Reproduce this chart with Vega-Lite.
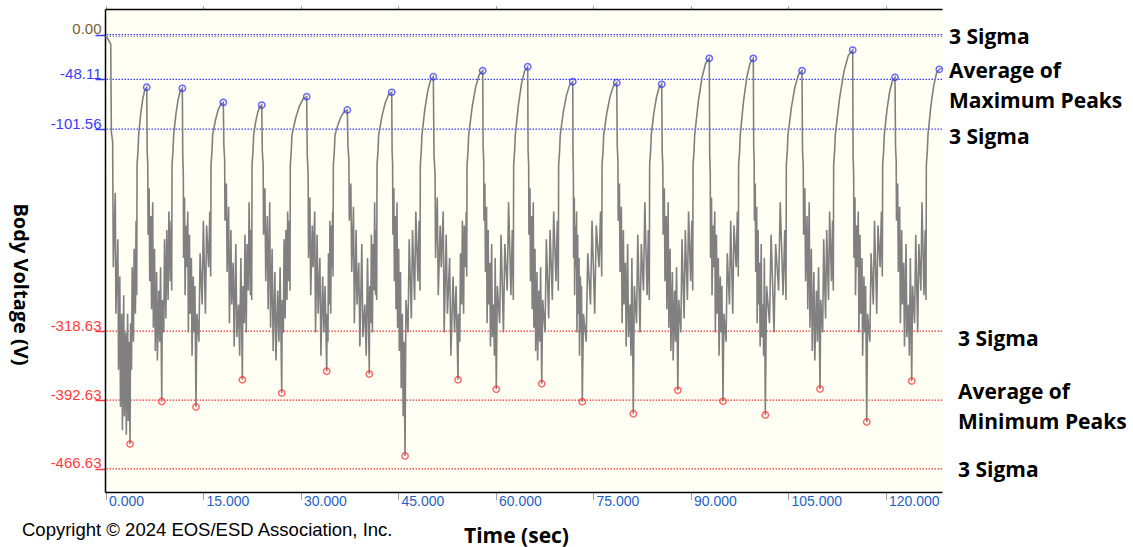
{
  "$schema": "https://vega.github.io/schema/vega-lite/v6.json",
  "width": 837,
  "height": 483,
  "autosize": {"type": "none"},
  "padding": {"left": 105, "top": 9, "right": 191, "bottom": 55},
  "background": "#ffffff",
  "title": {"text": "Copyright © 2024 EOS/ESD Association, Inc.", "orient": "bottom", "anchor": "start", "frame": "group", "dx": -83, "offset": -10.5, "font": "Liberation Sans", "fontSize": 18.5, "fontWeight": "normal", "color": "#000000", "baseline": "alphabetic"},
  "config": {"view": {"fill": "#fffff4", "stroke": null}, "axis": {"grid": false}},
  "resolve": {"axis": {"x": "independent"}},
  "datasets": {
    "levels": [
      {"v": 0, "band": "max", "role": "outer", "label": "3 Sigma"},
      {"v": -48.11, "band": "max", "role": "average", "label": "Average of\nMaximum Peaks"},
      {"v": -101.56, "band": "max", "role": "inner", "label": "3 Sigma"},
      {"v": -2, "band": "ref", "role": "ref", "label": ""},
      {"v": -318.63, "band": "min", "role": "inner", "label": "3 Sigma"},
      {"v": -392.63, "band": "min", "role": "average", "label": "Average of\nMinimum Peaks"},
      {"v": -466.63, "band": "min", "role": "outer", "label": "3 Sigma"}
    ],
    "maxp": [
      {"t": 6.34, "v": -56.6}, {"t": 11.82, "v": -57.7}, {"t": 18.12, "v": -72.8}, {"t": 24.03, "v": -75.7}, {"t": 30.95, "v": -66.7}, {"t": 37.2, "v": -81.0}, {"t": 44.03, "v": -62.0}, {"t": 50.43, "v": -45.3}, {"t": 58.03, "v": -38.8}, {"t": 64.95, "v": -34.5}, {"t": 71.88, "v": -50.6}, {"t": 78.65, "v": -51.7}, {"t": 85.57, "v": -53.4}, {"t": 92.89, "v": -25.5}, {"t": 99.66, "v": -25.5}, {"t": 107.15, "v": -38.8}, {"t": 114.95, "v": -16.6}, {"t": 121.46, "v": -45.9}, {"t": 128.28, "v": -37.3}
    ],
    "minp": [
      {"t": 3.77, "v": -439.9}, {"t": 8.65, "v": -394.2}, {"t": 13.92, "v": -400.1}, {"t": 21.05, "v": -370.9}, {"t": 27.11, "v": -385.1}, {"t": 34.03, "v": -361.7}, {"t": 40.58, "v": -364.7}, {"t": 46.08, "v": -452.7}, {"t": 54.23, "v": -370.8}, {"t": 60.12, "v": -381.1}, {"t": 67.11, "v": -375.1}, {"t": 73.35, "v": -394.4}, {"t": 81.2, "v": -407.3}, {"t": 88.05, "v": -382.2}, {"t": 95.0, "v": -394.0}, {"t": 101.51, "v": -408.7}, {"t": 109.92, "v": -380.8}, {"t": 117.11, "v": -416.2}, {"t": 124.03, "v": -372.2}
    ],
    "wave": [
      {"t":0,"v":-2},{"t":0.3,"v":-4},{"t":0.8,"v":-10},{"t":0.9,"v":-105},{"t":1.1,"v":-115},{"t":1.15,"v":-190},{"t":1.2,"v":-250},{"t":1.5,"v":-170},{"t":1.6,"v":-300},{"t":1.9,"v":-220},{"t":2.0,"v":-360},{"t":2.2,"v":-260},{"t":2.3,"v":-400},{"t":2.5,"v":-300},{"t":2.6,"v":-425},{"t":2.8,"v":-280},{"t":2.9,"v":-410},{"t":3.1,"v":-320},{"t":3.2,"v":-430},{"t":3.4,"v":-300},{"t":3.5,"v":-415},{"t":3.6,"v":-330},{"t":3.77,"v":-439.9},{"t":3.85,"v":-310},{"t":4.0,"v":-360},{"t":4.1,"v":-250},{"t":4.3,"v":-330},{"t":4.4,"v":-230},{"t":4.6,"v":-300},{"t":4.7,"v":-200},{"t":4.8,"v":-280},{"t":4.85,"v":-140},{"t":5.0,"v":-125},{"t":5.1,"v":-108},{"t":5.41,"v":-85.5},{"t":5.72,"v":-69.5},{"t":6.03,"v":-59.8},{"t":6.34,"v":-56.6},
      {"t":6.41,"v":-125},{"t":6.50,"v":-140},{"t":6.55,"v":-215},{"t":6.71,"v":-165},{"t":6.80,"v":-265},{"t":6.99,"v":-195},{"t":7.08,"v":-295},{"t":7.26,"v":-180},{"t":7.36,"v":-315},{"t":7.54,"v":-230},{"t":7.66,"v":-340},{"t":7.86,"v":-255},{"t":7.98,"v":-350},{"t":8.19,"v":-275},{"t":8.33,"v":-330},{"t":8.47,"v":-250},{"t":8.65,"v":-394.2},
      {"t":8.74,"v":-285},{"t":8.96,"v":-320},{"t":9.08,"v":-220},{"t":9.29,"v":-305},{"t":9.42,"v":-210},{"t":9.63,"v":-285},{"t":9.75,"v":-190},{"t":9.97,"v":-265},{"t":10.09,"v":-200},{"t":10.18,"v":-275},
      {"t":10.23,"v":-140},{"t":10.38,"v":-125},{"t":10.48,"v":-108},{"t":10.82,"v":-86.0},{"t":11.15,"v":-70.3},{"t":11.49,"v":-60.8},{"t":11.82,"v":-57.7},
      {"t":11.88,"v":-130},{"t":11.97,"v":-150},{"t":12.01,"v":-240},{"t":12.16,"v":-175},{"t":12.24,"v":-280},{"t":12.41,"v":-205},{"t":12.49,"v":-250},{"t":12.66,"v":-190},{"t":12.74,"v":-320},{"t":12.91,"v":-215},{"t":13.02,"v":-300},{"t":13.21,"v":-240},{"t":13.31,"v":-345},{"t":13.50,"v":-260},{"t":13.63,"v":-320},{"t":13.75,"v":-270},{"t":13.92,"v":-400.1},
      {"t":14.06,"v":-300},{"t":14.37,"v":-330},{"t":14.55,"v":-235},{"t":14.87,"v":-290},{"t":15.05,"v":-200},{"t":15.37,"v":-300},{"t":15.55,"v":-205},{"t":15.86,"v":-250},{"t":16.04,"v":-190},{"t":16.18,"v":-260},
      {"t":16.23,"v":-140},{"t":16.38,"v":-125},{"t":16.48,"v":-108},{"t":16.89,"v":-92.6},{"t":17.30,"v":-81.6},{"t":17.71,"v":-75.0},{"t":18.12,"v":-72.8},
      {"t":18.21,"v":-120},{"t":18.33,"v":-135},{"t":18.38,"v":-200},{"t":18.59,"v":-160},{"t":18.71,"v":-255},{"t":18.94,"v":-185},{"t":19.06,"v":-310},{"t":19.29,"v":-210},{"t":19.41,"v":-290},{"t":19.64,"v":-245},{"t":19.79,"v":-335},{"t":20.05,"v":-225},{"t":20.20,"v":-325},{"t":20.46,"v":-290},{"t":20.64,"v":-345},{"t":20.82,"v":-240},{"t":21.05,"v":-370.9},
      {"t":21.14,"v":-270},{"t":21.34,"v":-310},{"t":21.45,"v":-215},{"t":21.65,"v":-320},{"t":21.77,"v":-225},{"t":21.97,"v":-275},{"t":22.09,"v":-180},{"t":22.29,"v":-280},{"t":22.40,"v":-210},{"t":22.49,"v":-285},
      {"t":22.54,"v":-140},{"t":22.69,"v":-125},{"t":22.79,"v":-108},{"t":23.10,"v":-93.9},{"t":23.41,"v":-83.8},{"t":23.72,"v":-77.7},{"t":24.03,"v":-75.7},
      {"t":24.12,"v":-125},{"t":24.25,"v":-140},{"t":24.31,"v":-215},{"t":24.52,"v":-165},{"t":24.65,"v":-265},{"t":24.89,"v":-195},{"t":25.02,"v":-295},{"t":25.26,"v":-180},{"t":25.39,"v":-315},{"t":25.63,"v":-230},{"t":25.79,"v":-340},{"t":26.06,"v":-255},{"t":26.22,"v":-350},{"t":26.49,"v":-275},{"t":26.68,"v":-330},{"t":26.86,"v":-250},{"t":27.11,"v":-385.1},
      {"t":27.19,"v":-285},{"t":27.36,"v":-320},{"t":27.47,"v":-220},{"t":27.64,"v":-305},{"t":27.75,"v":-210},{"t":27.92,"v":-285},{"t":28.02,"v":-190},{"t":28.20,"v":-265},{"t":28.30,"v":-200},{"t":28.38,"v":-275},
      {"t":28.43,"v":-140},{"t":28.58,"v":-125},{"t":28.68,"v":-108},{"t":29.25,"v":-89.9},{"t":29.82,"v":-77.0},{"t":30.38,"v":-69.3},{"t":30.95,"v":-66.7},
      {"t":31.04,"v":-130},{"t":31.17,"v":-150},{"t":31.23,"v":-240},{"t":31.44,"v":-175},{"t":31.57,"v":-280},{"t":31.81,"v":-205},{"t":31.94,"v":-250},{"t":32.18,"v":-190},{"t":32.31,"v":-320},{"t":32.55,"v":-215},{"t":32.71,"v":-300},{"t":32.98,"v":-240},{"t":33.14,"v":-345},{"t":33.41,"v":-260},{"t":33.60,"v":-320},{"t":33.78,"v":-270},{"t":34.03,"v":-361.7},
      {"t":34.09,"v":-300},{"t":34.22,"v":-330},{"t":34.30,"v":-235},{"t":34.44,"v":-290},{"t":34.52,"v":-200},{"t":34.65,"v":-300},{"t":34.73,"v":-205},{"t":34.86,"v":-250},{"t":34.94,"v":-190},{"t":35.00,"v":-260},
      {"t":35.05,"v":-140},{"t":35.20,"v":-125},{"t":35.30,"v":-108},{"t":35.78,"v":-96.2},{"t":36.25,"v":-87.8},{"t":36.73,"v":-82.7},{"t":37.20,"v":-81.0},
      {"t":37.30,"v":-120},{"t":37.44,"v":-135},{"t":37.50,"v":-200},{"t":37.74,"v":-160},{"t":37.88,"v":-255},{"t":38.15,"v":-185},{"t":38.28,"v":-310},{"t":38.55,"v":-210},{"t":38.69,"v":-290},{"t":38.96,"v":-245},{"t":39.13,"v":-335},{"t":39.43,"v":-225},{"t":39.60,"v":-325},{"t":39.90,"v":-290},{"t":40.11,"v":-345},{"t":40.31,"v":-240},{"t":40.58,"v":-364.7},
      {"t":40.65,"v":-270},{"t":40.81,"v":-310},{"t":40.90,"v":-215},{"t":41.06,"v":-320},{"t":41.15,"v":-225},{"t":41.31,"v":-275},{"t":41.40,"v":-180},{"t":41.56,"v":-280},{"t":41.65,"v":-210},{"t":41.72,"v":-285},
      {"t":41.77,"v":-140},{"t":41.92,"v":-125},{"t":42.02,"v":-108},{"t":42.52,"v":-87.9},{"t":43.03,"v":-73.5},{"t":43.53,"v":-64.9},{"t":44.03,"v":-62.0},
      {"t":44.09,"v":-125},{"t":44.17,"v":-140},{"t":44.21,"v":-215},{"t":44.36,"v":-165},{"t":44.44,"v":-265},{"t":44.60,"v":-195},{"t":44.69,"v":-295},{"t":44.85,"v":-180},{"t":44.93,"v":-315},{"t":45.10,"v":-230},{"t":45.20,"v":-340},{"t":45.38,"v":-255},{"t":45.49,"v":-380},{"t":45.67,"v":-300},{"t":45.79,"v":-410},{"t":45.92,"v":-330},{"t":46.08,"v":-452.7},
      {"t":46.22,"v":-285},{"t":46.54,"v":-320},{"t":46.72,"v":-220},{"t":47.05,"v":-305},{"t":47.23,"v":-210},{"t":47.55,"v":-285},{"t":47.74,"v":-190},{"t":48.06,"v":-265},{"t":48.24,"v":-200},{"t":48.38,"v":-275},
      {"t":48.43,"v":-140},{"t":48.58,"v":-125},{"t":48.68,"v":-108},{"t":49.12,"v":-80.6},{"t":49.56,"v":-61.0},{"t":49.99,"v":-49.2},{"t":50.43,"v":-45.3},
      {"t":50.54,"v":-130},{"t":50.70,"v":-150},{"t":50.77,"v":-240},{"t":51.04,"v":-175},{"t":51.19,"v":-280},{"t":51.49,"v":-205},{"t":51.65,"v":-250},{"t":51.95,"v":-190},{"t":52.10,"v":-320},{"t":52.41,"v":-215},{"t":52.60,"v":-300},{"t":52.94,"v":-240},{"t":53.13,"v":-345},{"t":53.47,"v":-260},{"t":53.70,"v":-320},{"t":53.93,"v":-270},{"t":54.23,"v":-370.8},
      {"t":54.31,"v":-300},{"t":54.50,"v":-330},{"t":54.61,"v":-235},{"t":54.79,"v":-290},{"t":54.90,"v":-200},{"t":55.09,"v":-300},{"t":55.19,"v":-205},{"t":55.38,"v":-250},{"t":55.49,"v":-190},{"t":55.57,"v":-260},
      {"t":55.62,"v":-140},{"t":55.77,"v":-125},{"t":55.87,"v":-108},{"t":56.41,"v":-77.7},{"t":56.95,"v":-56.1},{"t":57.49,"v":-43.1},{"t":58.03,"v":-38.8},
      {"t":58.09,"v":-120},{"t":58.18,"v":-135},{"t":58.22,"v":-200},{"t":58.36,"v":-160},{"t":58.45,"v":-255},{"t":58.62,"v":-185},{"t":58.70,"v":-310},{"t":58.87,"v":-210},{"t":58.95,"v":-290},{"t":59.12,"v":-245},{"t":59.22,"v":-335},{"t":59.41,"v":-225},{"t":59.51,"v":-325},{"t":59.70,"v":-290},{"t":59.83,"v":-345},{"t":59.95,"v":-240},{"t":60.12,"v":-381.1},
      {"t":60.28,"v":-270},{"t":60.64,"v":-310},{"t":60.85,"v":-215},{"t":61.22,"v":-320},{"t":61.43,"v":-225},{"t":61.80,"v":-275},{"t":62.01,"v":-180},{"t":62.37,"v":-280},{"t":62.58,"v":-210},{"t":62.74,"v":-285},
      {"t":62.79,"v":-140},{"t":62.94,"v":-125},{"t":63.04,"v":-108},{"t":63.52,"v":-75.8},{"t":63.99,"v":-52.9},{"t":64.47,"v":-39.1},{"t":64.95,"v":-34.5},
      {"t":65.01,"v":-125},{"t":65.10,"v":-140},{"t":65.14,"v":-215},{"t":65.30,"v":-165},{"t":65.38,"v":-265},{"t":65.55,"v":-195},{"t":65.64,"v":-295},{"t":65.81,"v":-180},{"t":65.90,"v":-315},{"t":66.07,"v":-230},{"t":66.18,"v":-340},{"t":66.38,"v":-255},{"t":66.48,"v":-350},{"t":66.68,"v":-275},{"t":66.81,"v":-330},{"t":66.94,"v":-250},{"t":67.11,"v":-375.1},
      {"t":67.26,"v":-285},{"t":67.62,"v":-320},{"t":67.82,"v":-220},{"t":68.18,"v":-305},{"t":68.39,"v":-210},{"t":68.74,"v":-285},{"t":68.95,"v":-190},{"t":69.30,"v":-265},{"t":69.51,"v":-200},{"t":69.66,"v":-275},
      {"t":69.71,"v":-140},{"t":69.86,"v":-125},{"t":69.96,"v":-108},{"t":70.44,"v":-82.9},{"t":70.92,"v":-65.0},{"t":71.40,"v":-54.2},{"t":71.88,"v":-50.6},
      {"t":71.92,"v":-130},{"t":71.98,"v":-150},{"t":72.01,"v":-240},{"t":72.12,"v":-175},{"t":72.17,"v":-280},{"t":72.29,"v":-205},{"t":72.35,"v":-250},{"t":72.47,"v":-190},{"t":72.53,"v":-320},{"t":72.64,"v":-215},{"t":72.72,"v":-300},{"t":72.85,"v":-240},{"t":72.92,"v":-345},{"t":73.06,"v":-260},{"t":73.14,"v":-320},{"t":73.23,"v":-270},{"t":73.35,"v":-394.4},
      {"t":73.53,"v":-300},{"t":73.95,"v":-330},{"t":74.19,"v":-235},{"t":74.61,"v":-290},{"t":74.85,"v":-200},{"t":75.26,"v":-300},{"t":75.50,"v":-205},{"t":75.92,"v":-250},{"t":76.16,"v":-190},{"t":76.34,"v":-260},
      {"t":76.39,"v":-140},{"t":76.54,"v":-125},{"t":76.64,"v":-108},{"t":77.14,"v":-83.4},{"t":77.65,"v":-65.8},{"t":78.15,"v":-55.2},{"t":78.65,"v":-51.7},
      {"t":78.73,"v":-120},{"t":78.83,"v":-135},{"t":78.88,"v":-200},{"t":79.06,"v":-160},{"t":79.16,"v":-255},{"t":79.36,"v":-185},{"t":79.47,"v":-310},{"t":79.67,"v":-210},{"t":79.77,"v":-290},{"t":79.98,"v":-245},{"t":80.10,"v":-335},{"t":80.33,"v":-225},{"t":80.46,"v":-325},{"t":80.69,"v":-290},{"t":80.84,"v":-345},{"t":80.98,"v":-240},{"t":81.20,"v":-407.3},
      {"t":81.35,"v":-270},{"t":81.69,"v":-310},{"t":81.89,"v":-215},{"t":82.23,"v":-320},{"t":82.43,"v":-225},{"t":82.77,"v":-275},{"t":82.97,"v":-180},{"t":83.32,"v":-280},{"t":83.51,"v":-210},{"t":83.66,"v":-285},
      {"t":83.71,"v":-140},{"t":83.86,"v":-125},{"t":83.96,"v":-108},{"t":84.36,"v":-84.1},{"t":84.77,"v":-67.1},{"t":85.17,"v":-56.8},{"t":85.57,"v":-53.4},
      {"t":85.64,"v":-125},{"t":85.74,"v":-140},{"t":85.79,"v":-215},{"t":85.97,"v":-165},{"t":86.07,"v":-265},{"t":86.26,"v":-195},{"t":86.36,"v":-295},{"t":86.56,"v":-180},{"t":86.66,"v":-315},{"t":86.86,"v":-230},{"t":86.98,"v":-340},{"t":87.21,"v":-255},{"t":87.33,"v":-350},{"t":87.55,"v":-275},{"t":87.70,"v":-330},{"t":87.85,"v":-250},{"t":88.05,"v":-382.2},
      {"t":88.19,"v":-285},{"t":88.51,"v":-320},{"t":88.69,"v":-220},{"t":89.01,"v":-305},{"t":89.20,"v":-210},{"t":89.52,"v":-285},{"t":89.70,"v":-190},{"t":90.02,"v":-265},{"t":90.20,"v":-200},{"t":90.34,"v":-275},
      {"t":90.39,"v":-140},{"t":90.54,"v":-125},{"t":90.64,"v":-108},{"t":91.20,"v":-71.9},{"t":91.77,"v":-46.1},{"t":92.33,"v":-30.7},{"t":92.89,"v":-25.5},
      {"t":92.95,"v":-130},{"t":93.04,"v":-150},{"t":93.08,"v":-240},{"t":93.23,"v":-175},{"t":93.31,"v":-280},{"t":93.48,"v":-205},{"t":93.57,"v":-250},{"t":93.73,"v":-190},{"t":93.82,"v":-320},{"t":93.99,"v":-215},{"t":94.09,"v":-300},{"t":94.28,"v":-240},{"t":94.39,"v":-345},{"t":94.58,"v":-260},{"t":94.70,"v":-320},{"t":94.83,"v":-270},{"t":95.00,"v":-394.0},
      {"t":95.14,"v":-300},{"t":95.47,"v":-330},{"t":95.66,"v":-235},{"t":95.99,"v":-290},{"t":96.18,"v":-200},{"t":96.50,"v":-300},{"t":96.69,"v":-205},{"t":97.02,"v":-250},{"t":97.21,"v":-190},{"t":97.35,"v":-260},
      {"t":97.40,"v":-140},{"t":97.55,"v":-125},{"t":97.65,"v":-108},{"t":98.15,"v":-71.9},{"t":98.66,"v":-46.1},{"t":99.16,"v":-30.7},{"t":99.66,"v":-25.5},
      {"t":99.72,"v":-120},{"t":99.79,"v":-135},{"t":99.83,"v":-200},{"t":99.96,"v":-160},{"t":100.03,"v":-255},{"t":100.18,"v":-185},{"t":100.25,"v":-310},{"t":100.40,"v":-210},{"t":100.47,"v":-290},{"t":100.62,"v":-245},{"t":100.71,"v":-335},{"t":100.88,"v":-225},{"t":100.97,"v":-325},{"t":101.14,"v":-290},{"t":101.25,"v":-345},{"t":101.36,"v":-240},{"t":101.51,"v":-408.7},
      {"t":101.70,"v":-270},{"t":102.15,"v":-310},{"t":102.40,"v":-215},{"t":102.85,"v":-320},{"t":103.10,"v":-225},{"t":103.55,"v":-275},{"t":103.80,"v":-180},{"t":104.24,"v":-280},{"t":104.50,"v":-210},{"t":104.69,"v":-285},
      {"t":104.74,"v":-140},{"t":104.89,"v":-125},{"t":104.99,"v":-108},{"t":105.53,"v":-77.7},{"t":106.07,"v":-56.1},{"t":106.61,"v":-43.1},{"t":107.15,"v":-38.8},
      {"t":107.23,"v":-125},{"t":107.34,"v":-140},{"t":107.40,"v":-215},{"t":107.59,"v":-165},{"t":107.70,"v":-265},{"t":107.93,"v":-195},{"t":108.04,"v":-295},{"t":108.26,"v":-180},{"t":108.37,"v":-315},{"t":108.59,"v":-230},{"t":108.73,"v":-340},{"t":108.98,"v":-255},{"t":109.12,"v":-350},{"t":109.37,"v":-275},{"t":109.53,"v":-330},{"t":109.70,"v":-250},{"t":109.92,"v":-380.8},
      {"t":110.04,"v":-285},{"t":110.33,"v":-320},{"t":110.49,"v":-220},{"t":110.78,"v":-305},{"t":110.95,"v":-210},{"t":111.23,"v":-285},{"t":111.40,"v":-190},{"t":111.68,"v":-265},{"t":111.85,"v":-200},{"t":111.97,"v":-275},
      {"t":112.02,"v":-140},{"t":112.17,"v":-125},{"t":112.27,"v":-108},{"t":112.94,"v":-68.0},{"t":113.61,"v":-39.5},{"t":114.28,"v":-22.3},{"t":114.95,"v":-16.6},
      {"t":115.01,"v":-130},{"t":115.10,"v":-150},{"t":115.14,"v":-240},{"t":115.30,"v":-175},{"t":115.38,"v":-280},{"t":115.55,"v":-205},{"t":115.64,"v":-250},{"t":115.81,"v":-190},{"t":115.90,"v":-320},{"t":116.07,"v":-215},{"t":116.18,"v":-300},{"t":116.38,"v":-240},{"t":116.48,"v":-345},{"t":116.68,"v":-260},{"t":116.81,"v":-320},{"t":116.94,"v":-270},{"t":117.11,"v":-416.2},
      {"t":117.25,"v":-300},{"t":117.59,"v":-330},{"t":117.78,"v":-235},{"t":118.12,"v":-290},{"t":118.31,"v":-200},{"t":118.65,"v":-300},{"t":118.84,"v":-205},{"t":119.17,"v":-250},{"t":119.37,"v":-190},{"t":119.51,"v":-260},
      {"t":119.56,"v":-140},{"t":119.71,"v":-125},{"t":119.81,"v":-108},{"t":120.22,"v":-80.8},{"t":120.64,"v":-61.4},{"t":121.05,"v":-49.8},{"t":121.46,"v":-45.9},
      {"t":121.54,"v":-120},{"t":121.64,"v":-135},{"t":121.69,"v":-200},{"t":121.87,"v":-160},{"t":121.97,"v":-255},{"t":122.18,"v":-185},{"t":122.28,"v":-310},{"t":122.49,"v":-210},{"t":122.59,"v":-290},{"t":122.80,"v":-245},{"t":122.92,"v":-335},{"t":123.16,"v":-225},{"t":123.28,"v":-325},{"t":123.52,"v":-290},{"t":123.67,"v":-345},{"t":123.82,"v":-240},{"t":124.03,"v":-372.2},
      {"t":124.16,"v":-270},{"t":124.47,"v":-310},{"t":124.65,"v":-215},{"t":124.95,"v":-320},{"t":125.13,"v":-225},{"t":125.44,"v":-275},{"t":125.61,"v":-180},{"t":125.92,"v":-280},{"t":126.10,"v":-210},{"t":126.23,"v":-285},
      {"t":126.28,"v":-140},{"t":126.43,"v":-125},{"t":126.53,"v":-108},{"t":126.97,"v":-77.1},{"t":127.41,"v":-55.0},{"t":127.84,"v":-41.7},{"t":128.28,"v":-37.3},{"t":128.6,"v":-36}
    ]
  },
  "layer": [
    {
      "data": {"name": "levels"},
      "mark": {"type": "rule", "strokeDash": [1.5, 1.5], "strokeWidth": 1.2},
      "encoding": {
        "y": {"field": "v", "type": "quantitative", "scale": {"domain": [-491.4, 27.5], "nice": false, "zero": false},
          "axis": {
            "values": [0, -48.11, -101.56, -318.63, -392.63, -466.63],
            "labelExpr": "replace(format(datum.value, '.2f'), '\u2212', '-')",
            "title": "Body Voltage (V)",
            "titleFont": "Open Sans", "titleFontWeight": "bold", "titleFontSize": 20, "titleColor": "#000000",
            "titleAngle": 90, "titleX": -86, "titleY": 275, "titleAlign": "center", "titleBaseline": "middle",
            "labelFont": "Liberation Sans", "labelFontSize": 15, "labelBaseline": "alphabetic", "labelOffset": -1,
            "labelPadding": -6, "labelAlign": "right",
            "labelColor": {"condition": [{"test": "datum.value === 0", "value": "#7a5c2e"}, {"test": "datum.value > -200", "value": "#3b3bff"}], "value": "#ff3b3b"},
            "tickColor": {"condition": {"test": "datum.value > -200", "value": "#3b3bff"}, "value": "#ff3b3b"},
            "tickSize": 10, "tickWidth": 1.5,
            "domainColor": "#000000", "domainWidth": 1.5, "grid": false
          }},
        "color": {"field": "band", "type": "nominal", "scale": {"domain": ["max", "min", "ref"], "range": ["#3b3bff", "#ff3030", "#a0a0a0"]}, "legend": null}
      }
    },
    {
      "data": {"name": "wave"},
      "mark": {"type": "line", "color": "#808080", "strokeWidth": 1.6},
      "encoding": {
        "x": {"field": "t", "type": "quantitative", "scale": {"domain": [-0.08, 128.69], "nice": false, "zero": false},
          "axis": {
            "orient": "bottom",
            "values": [0, 15, 30, 45, 60, 75, 90, 105, 120],
            "format": ".3f",
            "title": "Time (sec)",
            "titleFont": "Open Sans", "titleFontWeight": "bold", "titleFontSize": 21, "titleColor": "#000000",
            "titleX": 411, "titleY": 50, "titleAlign": "center", "titleBaseline": "alphabetic",
            "labelFont": "Liberation Sans", "labelFontSize": 14, "labelColor": "#1f5fbf",
            "labelAlign": "left", "labelOffset": 3, "labelBaseline": "top", "labelPadding": -5,
            "labelFlush": false, "labelOverlap": false,
            "tickSize": 7, "tickDash": [1, 1], "tickColor": "#444444", "tickWidth": 1,
            "domainColor": "#000000", "domainWidth": 1.5, "grid": false
          }},
        "y": {"field": "v", "type": "quantitative", "scale": {"domain": [-491.4, 27.5], "nice": false, "zero": false}}
      }
    },
    {
      "data": {"name": "maxp"},
      "mark": {"type": "point", "filled": false, "color": "#2a2aff", "strokeWidth": 1.5, "size": 40},
      "encoding": {
        "x": {"field": "t", "type": "quantitative", "scale": {"domain": [-0.08, 128.69], "nice": false, "zero": false},
          "axis": {"orient": "top", "labels": false, "title": null, "values": [0, 15, 30, 45, 60, 75, 90, 105, 120],
            "tickSize": 4, "tickDash": [1, 1], "tickColor": "#444444", "domainColor": "#000000", "domainWidth": 1.5, "grid": false}},
        "y": {"field": "v", "type": "quantitative", "scale": {"domain": [-491.4, 27.5], "nice": false, "zero": false}}
      }
    },
    {
      "data": {"name": "minp"},
      "mark": {"type": "point", "filled": false, "color": "#ff2a2a", "strokeWidth": 1.5, "size": 40},
      "encoding": {
        "x": {"field": "t", "type": "quantitative", "scale": {"domain": [-0.08, 128.69], "nice": false, "zero": false}, "axis": null},
        "y": {"field": "v", "type": "quantitative", "scale": {"domain": [-491.4, 27.5], "nice": false, "zero": false}}
      }
    },
    {
      "data": {"name": "levels"},
      "transform": [{"filter": "datum.band === 'max' && datum.role === 'outer'"}],
      "mark": {"type": "text", "align": "left", "baseline": "middle", "dx": 7, "dy": 3, "font": "Open Sans", "fontWeight": "bold", "fontSize": 21, "color": "#000000"},
      "encoding": {"x": {"value": "width"}, "y": {"field": "v", "type": "quantitative", "scale": {"domain": [-491.4, 27.5], "nice": false, "zero": false}}, "text": {"field": "label"}}
    },
    {
      "data": {"name": "levels"},
      "transform": [{"filter": "datum.band === 'max' && datum.role === 'inner'"}],
      "mark": {"type": "text", "align": "left", "baseline": "middle", "dx": 7, "dy": 8.5, "font": "Open Sans", "fontWeight": "bold", "fontSize": 21, "color": "#000000"},
      "encoding": {"x": {"value": "width"}, "y": {"field": "v", "type": "quantitative", "scale": {"domain": [-491.4, 27.5], "nice": false, "zero": false}}, "text": {"field": "label"}}
    },
    {
      "data": {"name": "levels"},
      "transform": [{"filter": "datum.band === 'max' && datum.role === 'average'"}],
      "mark": {"type": "text", "align": "left", "baseline": "middle", "dx": 7, "dy": -7, "lineBreak": "\n", "lineHeight": 30, "font": "Open Sans", "fontWeight": "bold", "fontSize": 21, "color": "#000000"},
      "encoding": {"x": {"value": "width"}, "y": {"field": "v", "type": "quantitative", "scale": {"domain": [-491.4, 27.5], "nice": false, "zero": false}}, "text": {"field": "label"}}
    },
    {
      "data": {"name": "levels"},
      "transform": [{"filter": "datum.band === 'min' && datum.role === 'inner'"}],
      "mark": {"type": "text", "align": "left", "baseline": "middle", "dx": 16, "dy": 8.5, "font": "Open Sans", "fontWeight": "bold", "fontSize": 21, "color": "#000000"},
      "encoding": {"x": {"value": "width"}, "y": {"field": "v", "type": "quantitative", "scale": {"domain": [-491.4, 27.5], "nice": false, "zero": false}}, "text": {"field": "label"}}
    },
    {
      "data": {"name": "levels"},
      "transform": [{"filter": "datum.band === 'min' && datum.role === 'average'"}],
      "mark": {"type": "text", "align": "left", "baseline": "middle", "dx": 16, "dy": -7, "lineBreak": "\n", "lineHeight": 30, "font": "Open Sans", "fontWeight": "bold", "fontSize": 21, "color": "#000000"},
      "encoding": {"x": {"value": "width"}, "y": {"field": "v", "type": "quantitative", "scale": {"domain": [-491.4, 27.5], "nice": false, "zero": false}}, "text": {"field": "label"}}
    },
    {
      "data": {"name": "levels"},
      "transform": [{"filter": "datum.band === 'min' && datum.role === 'outer'"}],
      "mark": {"type": "text", "align": "left", "baseline": "middle", "dx": 16, "dy": 2, "font": "Open Sans", "fontWeight": "bold", "fontSize": 21, "color": "#000000"},
      "encoding": {"x": {"value": "width"}, "y": {"field": "v", "type": "quantitative", "scale": {"domain": [-491.4, 27.5], "nice": false, "zero": false}}, "text": {"field": "label"}}
    }
  ]
}
